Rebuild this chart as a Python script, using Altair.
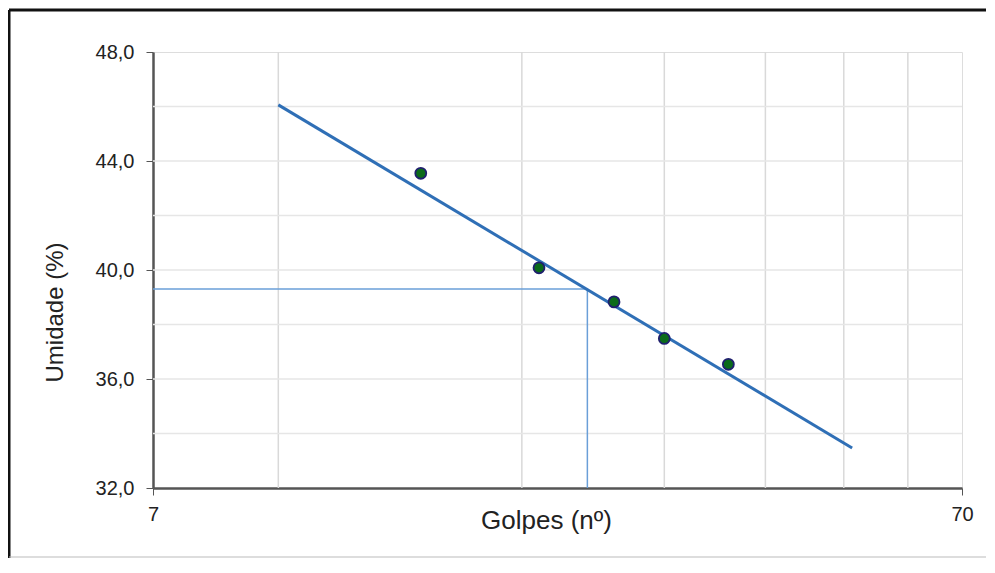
import altair as alt
import pandas as pd

# Data
golpes = [15.0, 21.0, 26.0, 30.0, 36.0]
umidade = [43.55, 40.08, 38.83, 37.49, 36.54]

trend_x = [10.0, 51.2]
trend_y = [46.06, 33.47]

ll_golpes = 24.1
ll_umidade = 39.3

x_grid = [10, 20, 30, 40, 50, 60]
y_grid = [34, 36, 38, 40, 42, 44, 46]
x_ticks = [7, 70]
y_ticks = [32, 36, 40, 44, 48]

X_DOMAIN = [7, 70]
Y_DOMAIN = [32, 48]

W, H = 809, 436
PAD = {"left": 145, "top": 44, "right": 24, "bottom": 70}

pts = pd.DataFrame({"golpes": golpes, "umidade": umidade})
trend = pd.DataFrame({"golpes": trend_x, "umidade": trend_y})
hguide = pd.DataFrame({"x1": [X_DOMAIN[0]], "x2": [ll_golpes], "y": [ll_umidade]})
vguide = pd.DataFrame({"x": [ll_golpes], "y1": [Y_DOMAIN[0]], "y2": [ll_umidade]})
xg = pd.DataFrame({"g": x_grid})
yg = pd.DataFrame({"g": y_grid})
one = pd.DataFrame({"k": [0]})

xscale = alt.Scale(type="log", domain=X_DOMAIN, nice=False)
yscale = alt.Scale(domain=Y_DOMAIN, nice=False, zero=False)

FONT = "Liberation Sans"

x_axis = alt.Axis(
    values=x_ticks, grid=False, title="Golpes (nº)", labelFontSize=20,
    labelPadding=9, tickSize=7, tickColor="#555", domainColor="#555",
    domainWidth=2.5, labelColor="#222", titleFontSize=26, titleFontWeight="normal",
    titleColor="#222", titleX=393, titleY=32, titleBaseline="middle",
    titleAnchor="middle", labelFlush=False,
)
y_axis = alt.Axis(
    values=y_ticks, grid=False, title="Umidade (%)", labelFontSize=20,
    labelPadding=12, tickSize=7, tickColor="#555", domainColor="#555",
    domainWidth=2.5, labelColor="#222", titleFontSize=24, titleFontWeight="normal",
    titleColor="#222", titleX=-98, titleY=260, titleBaseline="middle",
    titleAngle=270, titleAlign="center",
    labelExpr="replace(format(datum.value, '.1f'), '.', ',')",
)

vgrid = alt.Chart(xg).mark_rule(color="#d9d9d9", strokeWidth=1.5).encode(
    x=alt.X("g:Q", scale=xscale, axis=x_axis)
)
hgrid = alt.Chart(yg).mark_rule(color="#e6e6e6", strokeWidth=1.5).encode(
    y=alt.Y("g:Q", scale=yscale, axis=y_axis)
)

hg = alt.Chart(hguide).mark_rule(color="#6a9fd8", strokeWidth=1.5).encode(
    x=alt.X("x1:Q", scale=xscale), x2="x2:Q", y=alt.Y("y:Q", scale=yscale)
)
vg = alt.Chart(vguide).mark_rule(color="#6a9fd8", strokeWidth=1.5).encode(
    x=alt.X("x:Q", scale=xscale), y=alt.Y("y1:Q", scale=yscale), y2="y2:Q"
)

tl = alt.Chart(trend).mark_line(color="#2f6fb6", strokeWidth=3).encode(
    x=alt.X("golpes:Q", scale=xscale), y=alt.Y("umidade:Q", scale=yscale)
)

dots = alt.Chart(pts).mark_point(
    filled=True, fill="#0b6b1a", stroke="#1f1f6e", strokeWidth=1.8, size=120, opacity=1
).encode(
    x=alt.X("golpes:Q", scale=xscale), y=alt.Y("umidade:Q", scale=yscale)
)

# outer frame of the figure
frame_top = alt.Chart(one).mark_rule(color="#111", strokeWidth=3).encode(
    x=alt.value(-144), x2=alt.value(W + 40), y=alt.value(-42)
)
frame_left = alt.Chart(one).mark_rule(color="#111", strokeWidth=3).encode(
    x=alt.value(-144), y=alt.value(-42), y2=alt.value(H + 70)
)
frame_bottom = alt.Chart(one).mark_rule(color="#bbb", strokeWidth=1).encode(
    x=alt.value(-144), x2=alt.value(W + 40), y=alt.value(H + 69)
)

chart = alt.layer(
    vgrid, hgrid, hg, vg, tl, dots, frame_top, frame_left, frame_bottom
).properties(
    width=W, height=H, padding=PAD,
    autosize=alt.AutoSizeParams(type="none"),
    background="white",
).configure_view(
    stroke="#777", strokeWidth=2
).configure(
    font=FONT
)

chart.save("out.html", embed_options={"renderer": "svg", "actions": False})
